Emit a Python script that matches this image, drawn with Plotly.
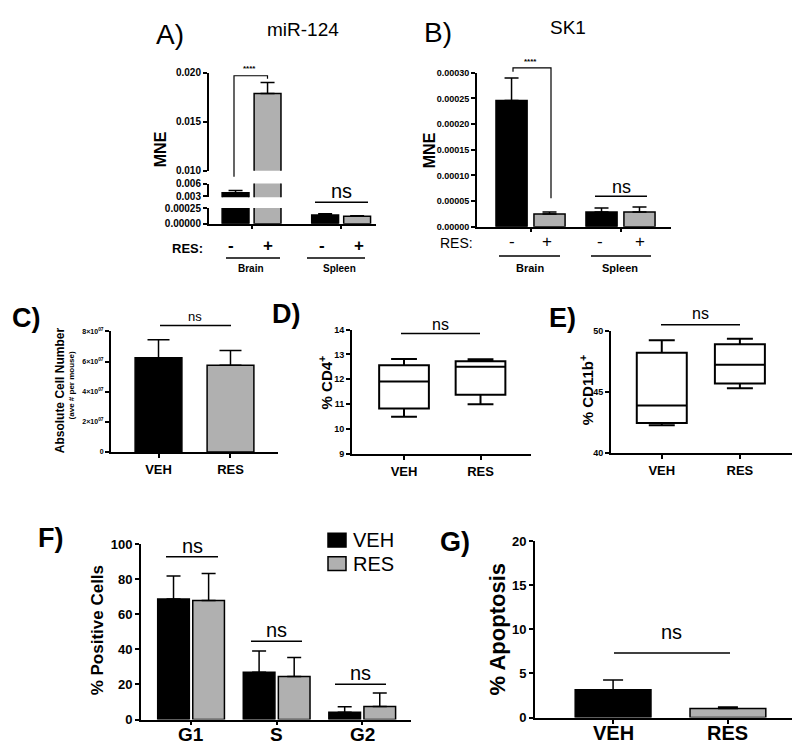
import plotly.graph_objects as go

# ---------------- DATA ----------------
groups_ab = ["Brain", "Spleen"]
res_signs = ["-", "+", "-", "+"]
mir124_mean = [0.0038, 0.0179, 0.00014, 0.00012]
mir124_err = [0.0005, 0.0011, 0.00002, 0.000005]
sk1_mean = [0.000246, 0.0000248, 0.0000287, 0.0000287]
sk1_err = [0.000044, 0.000004, 0.0000076, 0.0000095]

treatments = ["VEH", "RES"]
cell_number_mean = [6.26e7, 5.76e7]
cell_number_err = [1.2e7, 0.98e7]
cell_ticks = [0, 2e7, 4e7, 6e7, 8e7]
cell_ticktext = ["0", "2×10<sup>07</sup>", "4×10<sup>07</sup>", "6×10<sup>07</sup>", "8×10<sup>07</sup>"]

cd4_lower = [10.5, 11.0]
cd4_q1 = [10.83, 11.38]
cd4_median = [11.91, 12.5]
cd4_q3 = [12.57, 12.73]
cd4_upper = [12.82, 12.81]

cd11b_lower = [42.27, 45.28]
cd11b_q1 = [42.45, 45.68]
cd11b_median = [43.87, 47.2]
cd11b_q3 = [48.19, 48.88]
cd11b_upper = [49.2, 49.33]

phases = ["G1", "S", "G2"]
phase_veh_mean = [68.7, 27.0, 4.1]
phase_veh_err = [13.1, 12.1, 3.2]
phase_res_mean = [67.8, 24.6, 7.4]
phase_res_err = [15.4, 10.8, 7.7]

apoptosis_mean = [3.16, 1.04]
apoptosis_err = [1.11, 0.15]

# ---------------- STYLE ----------------
W, H = 800, 745
FONT = "Liberation Sans"
BLACK = "#000000"
GRAY = "#b0b0b0"
bar_colors4 = [BLACK, GRAY, BLACK, GRAY]


def px(x):
    return x / W


def py(y):
    return 1 - y / H


def dom_x(a, b):
    return [px(a), px(b)]


def dom_y(bottom, top):
    return [py(bottom), py(top)]


def yax(domain, rng, anchor, tickvals, ticktext=None, size=10, bold=True, fmt=None):
    d = dict(domain=domain, range=rng, anchor=anchor, showline=True, linewidth=2,
             linecolor=BLACK, ticks="outside", ticklen=4, tickwidth=1.5, tickcolor=BLACK,
             tickvals=tickvals, showgrid=False, zeroline=False, fixedrange=True,
             tickfont=dict(family=FONT, size=size, color=BLACK, weight="bold" if bold else "normal"))
    if ticktext is not None:
        d["ticktext"] = ticktext
    if fmt:
        d["tickformat"] = fmt
    return d


def xax(domain, rng, anchor, tickvals, ticktext=None, size=13, ticklen=4):
    d = dict(domain=domain, range=rng, anchor=anchor, showline=True, linewidth=2,
             linecolor=BLACK, ticks="outside", ticklen=ticklen, tickwidth=1.5, tickcolor=BLACK,
             tickvals=tickvals, showgrid=False, zeroline=False, fixedrange=True,
             tickfont=dict(family=FONT, size=size, color=BLACK, weight="bold"))
    if ticktext is None:
        d["showticklabels"] = False
    else:
        d["ticktext"] = ticktext
    return d


def err(arr, w, thick=1.5):
    return dict(type="data", array=arr, arrayminus=[0] * len(arr), symmetric=False,
                color=BLACK, thickness=thick, width=w, visible=True)


fig = go.Figure()

# ---------------- PANEL A (broken axis) ----------------
posA = [0, 1, 2.8, 3.8]
for ya in ["y", "y2", "y3"]:
    fig.add_trace(go.Bar(x=posA, y=mir124_mean, width=0.84, xaxis="x", yaxis=ya,
                         marker=dict(color=bar_colors4, line=dict(color=BLACK, width=1.5)),
                         error_y=err(mir124_err, 7), showlegend=False, hoverinfo="skip"))

# ---------------- PANEL B ----------------
posB = [0, 1, 2.37, 3.37]
fig.add_trace(go.Bar(x=posB, y=sk1_mean, width=0.82, xaxis="x2", yaxis="y4",
                     marker=dict(color=bar_colors4, line=dict(color=BLACK, width=1.5)),
                     error_y=err(sk1_err, 7), showlegend=False, hoverinfo="skip"))

# ---------------- PANEL C ----------------
pos2 = [0, 1]
fig.add_trace(go.Bar(x=pos2, y=cell_number_mean, width=0.65, xaxis="x3", yaxis="y5",
                     marker=dict(color=[BLACK, GRAY], line=dict(color=BLACK, width=1.5)),
                     error_y=err(cell_number_err, 11), showlegend=False, hoverinfo="skip"))

# ---------------- PANEL D ----------------
fig.add_trace(go.Box(x=pos2, q1=cd4_q1, median=cd4_median, q3=cd4_q3,
                     lowerfence=cd4_lower, upperfence=cd4_upper, width=0.65, whiskerwidth=0.52,
                     xaxis="x4", yaxis="y6", fillcolor="white", line=dict(color=BLACK, width=2),
                     boxpoints=False, showlegend=False, hoverinfo="skip"))

# ---------------- PANEL E ----------------
fig.add_trace(go.Box(x=pos2, q1=cd11b_q1, median=cd11b_median, q3=cd11b_q3,
                     lowerfence=cd11b_lower, upperfence=cd11b_upper, width=0.64, whiskerwidth=0.52,
                     xaxis="x5", yaxis="y7", fillcolor="white", line=dict(color=BLACK, width=2),
                     boxpoints=False, showlegend=False, hoverinfo="skip"))

# ---------------- PANEL F ----------------
posF = list(range(len(phases)))
offF = 0.205
fig.add_trace(go.Bar(x=[p - offF for p in posF], y=phase_veh_mean, width=0.37, xaxis="x6", yaxis="y8",
                     name="VEH", marker=dict(color=BLACK, line=dict(color=BLACK, width=1.5)),
                     error_y=err(phase_veh_err, 7), showlegend=False, hoverinfo="skip"))
fig.add_trace(go.Bar(x=[p + offF for p in posF], y=phase_res_mean, width=0.37, xaxis="x6", yaxis="y8",
                     name="RES", marker=dict(color=GRAY, line=dict(color=BLACK, width=1.5)),
                     error_y=err(phase_res_err, 7), showlegend=False, hoverinfo="skip"))

# ---------------- PANEL G ----------------
fig.add_trace(go.Bar(x=pos2, y=apoptosis_mean, width=0.66, xaxis="x7", yaxis="y9",
                     marker=dict(color=[BLACK, GRAY], line=dict(color=BLACK, width=1.5)),
                     error_y=err(apoptosis_err, 10), showlegend=False, hoverinfo="skip"))

# ---------------- AXES ----------------
layout = dict(
    width=W, height=H, margin=dict(l=0, r=0, t=0, b=0),
    paper_bgcolor="white", plot_bgcolor="rgba(0,0,0,0)", barmode="overlay",
    showlegend=False,
    # A
    xaxis=xax(dom_x(201, 368), [-0.83, 4.39], "y3", [0.5, 3.3], ticklen=3),
    yaxis=yax(dom_y(159, 59), [0.010, 0.020], "x", [0.010, 0.015, 0.020], fmt=".3f", size=10),
    yaxis2=yax(dom_y(186, 172), [0.0027, 0.006], "x", [0.003, 0.006], fmt=".3f", size=10),
    yaxis3=yax(dom_y(213, 197), [0, 0.00025], "x", [0, 0.00025], fmt=".5f", size=10),
    # B
    xaxis2=xax(dom_x(469, 663), [-0.91, 4.2], "y4", [0.5, 2.87], ticklen=3),
    yaxis4=yax(dom_y(216, 59), [0, 0.0003], "x2",
               [0, 0.00005, 0.0001, 0.00015, 0.0002, 0.00025, 0.0003], fmt=".5f", size=9),
    # C
    xaxis3=xax(dom_x(103, 270), [-0.66, 1.66], "y5", pos2, treatments, size=13),
    yaxis5=yax(dom_y(446, 323), [0, 8e7], "x3", cell_ticks, cell_ticktext, size=7),
    # D
    xaxis4=xax(dom_x(344, 523), [-0.68, 1.66], "y6", pos2, treatments, size=13),
    yaxis6=yax(dom_y(448, 321), [9, 14], "x4", [9, 10, 11, 12, 13, 14], size=9),
    # E
    xaxis5=xax(dom_x(603, 785), [-0.65, 1.68], "y7", pos2, treatments, size=13),
    yaxis7=yax(dom_y(447, 322), [40, 50], "x5", [40, 45, 50], size=9),
    # F
    xaxis6=xax(dom_x(133, 403), [-0.585, 2.57], "y8", posF, ticklen=3),
    yaxis8=yax(dom_y(719, 540), [0, 100], "x6", [0, 20, 40, 60, 80, 100], size=13),
    # G
    xaxis7=xax(dom_x(527, 798), [-0.68, 1.68], "y9", pos2, ticklen=4),
    yaxis9=yax(dom_y(717, 537), [0, 20], "x7", [0, 5, 10, 15, 20], size=13),
)
fig.update_layout(**layout)

# ---------------- DECORATIONS ----------------
annotations = []
shapes = []


def txt(x, y, s, size, bold=False, angle=0, xanchor="center", xref="paper"):
    annotations.append(dict(x=px(x) if xref == "paper" else x, y=py(y), xref=xref, yref="paper",
                            text=s, showarrow=False,
                            textangle=angle, xanchor=xanchor, yanchor="middle",
                            font=dict(family=FONT, size=size, color=BLACK,
                                      weight="bold" if bold else "normal")))


def line(x0, y0, x1, y1, w=1.5):
    shapes.append(dict(type="line", xref="paper", yref="paper", x0=px(x0), y0=py(y0),
                       x1=px(x1), y1=py(y1), line=dict(color=BLACK, width=w)))


def path(pts, w=1.2):
    d = "M " + " L ".join(f"{px(a)},{py(b)}" for a, b in pts)
    shapes.append(dict(type="path", xref="paper", yref="paper", path=d,
                       line=dict(color=BLACK, width=w)))


def rect(x0, y0, x1, y1, fill):
    shapes.append(dict(type="rect", xref="paper", yref="paper", x0=px(x0), y0=py(y1),
                       x1=px(x1), y1=py(y0), fillcolor=fill, line=dict(color=BLACK, width=1.5)))


# Panel A
txt(162, 20, "A)", 28)
txt(295, 15, "miR-124", 19)
txt(152, 137, "MNE", 16, bold=True, angle=-90)
path([(226, 165), (226, 62), (259.5, 62), (259.5, 65)])
txt(241, 55, "****", 8, bold=True)
line(307, 191, 360, 191)
txt(333, 180, "ns", 20)
txt(179, 238, "RES:", 13, bold=True)
for xx, s in zip([223, 260, 314, 351], res_signs):
    txt(xx, 235, s, 17, bold=True)
line(218, 248, 272, 248)
line(299, 248, 357, 248)
txt(243, 259, groups_ab[0], 10, bold=True)
txt(331, 259, groups_ab[1], 10, bold=True)

# Panel B
txt(430, 18, "B)", 28)
txt(560, 13, "SK1", 19)
txt(421, 138, "MNE", 16, bold=True, angle=-90)
path([(505, 58), (505, 54), (543, 54), (543, 187)])
txt(522, 47, "****", 8, bold=True)
line(587, 185, 639, 185)
txt(613, 176, "ns", 18)
txt(448, 233, "RES:", 14)
for xx, s in zip([504, 539, 592, 632], res_signs):
    txt(xx, 231, s, 17)
line(491, 246, 552, 246)
line(583, 246, 643, 246)
txt(522, 258, groups_ab[0], 11, bold=True)
txt(612, 258, groups_ab[1], 11, bold=True)

# Panel C
txt(18, 309, "C)", 27, bold=True)
txt(52, 383, "Absolute Cell Number", 12, bold=True, angle=-90)
txt(63, 378, "(ave # per mouse)", 8, bold=True, angle=-90)
line(152, 317, 223, 317)
txt(187, 308, "ns", 13)

# Panel D
txt(278, 305, "D)", 27, bold=True)
txt(317, 375, "% CD4<sup>+</sup>", 15, bold=True, angle=-90)
line(393, 325, 472, 325)
txt(432, 316, "ns", 16)

# Panel E
txt(554, 309, "E)", 27, bold=True)
txt(578, 383, "% CD11b<sup>+</sup>", 15, bold=True, angle=-90)
line(653, 316, 732, 316)
txt(692, 305, "ns", 16)

# Panel F
txt(42, 534, "F)", 27, bold=True)
txt(89, 628, "% Positive Cells", 17, bold=True, angle=-90)
for (x0, x1, yl) in [(158, 210, 553), (243, 294, 639), (327, 378, 683)]:
    line(x0, yl, x1, yl)
    txt((x0 + x1) / 2, yl - 11, "ns", 20)
rect(320, 529, 338, 543, BLACK)
rect(320, 553, 338, 567, GRAY)
txt(343, 536, "VEH", 20, xanchor="left")
txt(343, 560, "RES", 20, xanchor="left")
for p, lab in zip(posF, phases):
    txt(p, 734, lab, 19, bold=True, xref="x6")

# Panel G
txt(447, 538, "G)", 27, bold=True)
txt(489, 627, "% Apoptosis", 22, bold=True, angle=-90)
line(606, 651, 722, 651)
txt(663, 630, "ns", 20)
for p, lab in zip(pos2, treatments):
    txt(p, 733, lab, 20, bold=True, xref="x7")

fig.update_layout(annotations=annotations, shapes=shapes)
fig.write_html("out.html")
